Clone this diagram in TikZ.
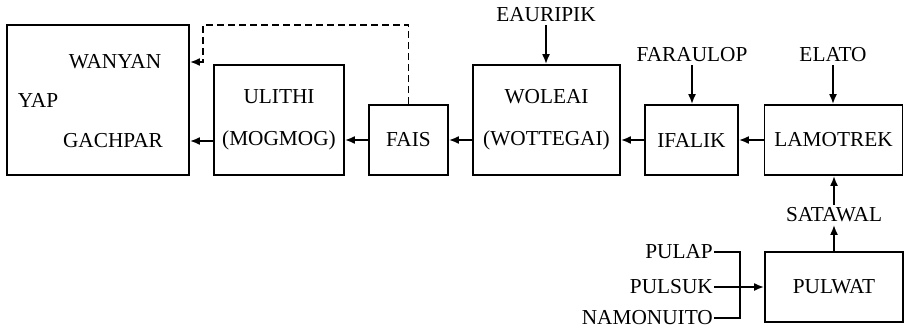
\documentclass[tikz,border=0pt]{standalone}
\usepackage{fontspec}
\setmainfont{Liberation Serif}
\usetikzlibrary{arrows.meta}
\begin{document}
\begin{tikzpicture}[x=1pt,y=-1pt,
  every node/.style={font=\fontsize{21.3}{42}\selectfont},
  box/.style={draw,line width=1.8pt,align=center,inner sep=0pt},
  lbl/.style={inner sep=2.5pt},
  conn/.style={line width=1.8pt},
  arr/.style={conn,-{Latex[length=10pt,width=8pt]}},
  dashline/.style={arr,dash pattern=on 7pt off 4pt}]
\useasboundingbox (0,0) rectangle (904,332);

% main chain of islands
\node[box,minimum width=182pt,minimum height=150pt] (yap) at (98,100) {};
\node[lbl] (wanyan) at (115,62) {WANYAN};
\node[lbl] (yapl) at (38,100) {YAP};
\node[lbl] (gach) at (113,141) {GACHPAR};

\node[box,minimum width=130pt,minimum height=110pt] (ulithi) at (279,120) {ULITHI\\(MOGMOG)};
\node[box,minimum width=79pt,minimum height=70pt] (fais) at (408.5,140) {FAIS};
\node[box,minimum width=147pt,minimum height=110pt] (woleai) at (546.5,120) {WOLEAI\\(WOTTEGAI)};
\node[box,minimum width=93pt,minimum height=70pt] (ifalik) at (691.5,140) {IFALIK};
\node[box,minimum width=138pt,minimum height=70pt] (lamo) at (833.5,140) {LAMOTREK};
\node[box,minimum width=138pt,minimum height=70pt] (pulwat) at (834,287) {PULWAT};

% outlying islands
\node[lbl] (eau) at (546,15) {EAURIPIK};
\node[lbl] (far) at (692,55) {FARAULOP};
\node[lbl] (elato) at (833,55) {ELATO};
\node[lbl] (sat) at (834,215) {SATAWAL};
\node[lbl,anchor=east,inner sep=1pt] (pulap) at (714,252) {PULAP};
\node[lbl,anchor=east,inner sep=1pt] (pulsuk) at (714,287) {PULSUK};
\node[lbl,anchor=east,inner sep=1pt] (namo) at (714,318) {NAMONUITO};
\coordinate (brk) at (740,0);
\coordinate (dtop) at (203,25);

% westward links
\draw[arr] (ulithi.west |- gach) -- (yap.east |- gach);
\draw[arr] (fais.west) -- (ulithi.east |- fais.west);
\draw[arr] (woleai.west |- fais.west) -- (fais.east);
\draw[arr] (ifalik.west) -- (woleai.east |- ifalik.west);
\draw[arr] (lamo.west) -- (ifalik.east);
\draw[dashline] (fais.north) |- (dtop) |- (yap.east |- wanyan);

% feeders
\draw[arr] (eau.south) -- (woleai.north -| eau);
\draw[arr] (far.south) -- (ifalik.north -| far);
\draw[arr] (elato.south) -- (lamo.north -| elato);
\draw[arr] (pulwat.north -| sat) -- (sat.south);
\draw[arr] (sat.north) -- (lamo.south -| sat);
\draw[conn] (pulap.east) -- (pulap.east -| brk) -- (namo.east -| brk) -- (namo.east);
\draw[arr] (pulsuk.east) -- (pulwat.west |- pulsuk.east);
\end{tikzpicture}
\end{document}
